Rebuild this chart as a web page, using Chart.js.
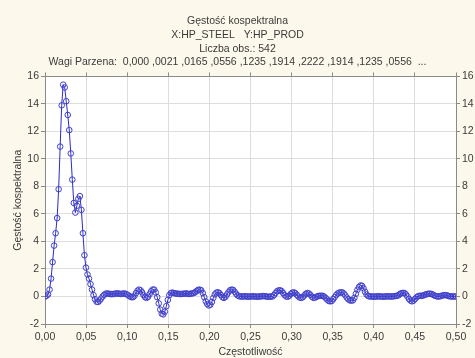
<!DOCTYPE html>
<html>
<head>
<meta charset="utf-8">
<script src="https://cdn.jsdelivr.net/npm/chart.js@4.4.0/dist/chart.umd.min.js"></script>
<style>
  html, body { margin: 0; padding: 0; background: #fcf9ec; }
  canvas { display: block; }
</style>
</head>
<body>
<canvas id="chart" width="475" height="358"></canvas>
<script>
// Cospectral density, one value per Fourier frequency k / nObs
const nObs = 542;
const cospectrum = [
  0.0, 0.05, 0.15, 0.5, 1.3, 2.5, 3.7, 4.6, 5.7, 7.8,
  10.9, 13.9, 15.4, 15.2, 14.2, 13.2, 12.1, 10.4, 8.5, 6.8,
  6.1, 6.6, 7.1, 7.3, 6.3, 4.6, 3.0, 2.1, 1.6, 1.3,
  0.9, 0.5, 0.1, -0.2, -0.38, -0.4, -0.3, -0.15, 0.0, 0.12,
  0.2, 0.22, 0.2, 0.18, 0.17, 0.18, 0.2, 0.22, 0.22, 0.2,
  0.18, 0.2, 0.22, 0.2, 0.15, 0.08, 0.0, -0.05, -0.05, 0.05,
  0.25, 0.42, 0.5, 0.45, 0.3, 0.1, -0.05, -0.1, -0.02, 0.18,
  0.38, 0.5, 0.5, 0.3, -0.05, -0.5, -0.95, -1.25, -1.3, -1.1,
  -0.7, -0.25, 0.1, 0.25, 0.28, 0.25, 0.22, 0.2, 0.2, 0.18,
  0.18, 0.2, 0.2, 0.22, 0.2, 0.18, 0.2, 0.22, 0.25, 0.3,
  0.4, 0.48, 0.5, 0.45, 0.25, -0.05, -0.35, -0.55, -0.65, -0.6,
  -0.4, -0.1, 0.15, 0.28, 0.3, 0.25, 0.1, -0.05, -0.1, -0.02,
  0.15, 0.32, 0.45, 0.5, 0.48, 0.35, 0.2, 0.08, 0.02, 0.0,
  0.0, 0.0, 0.02, 0.0, -0.02, 0.0, 0.0, 0.02, 0.0, 0.0,
  -0.02, 0.0, 0.0, 0.02, 0.03, 0.02, 0.0, -0.02, -0.02, 0.0,
  0.0, 0.1, 0.25, 0.38, 0.44, 0.45, 0.4, 0.25, 0.1, 0.0,
  -0.02, 0.05, 0.18, 0.27, 0.3, 0.25, 0.12, 0.0, -0.08, -0.1,
  -0.05, 0.08, 0.2, 0.25, 0.22, 0.12, -0.02, -0.1, -0.08, -0.02,
  0.03, 0.05, 0.05, 0.05, 0.0, -0.1, -0.22, -0.32, -0.35, -0.33,
  -0.2, -0.05, 0.1, 0.22, 0.28, 0.3, 0.3, 0.22, 0.08, -0.08,
  -0.2, -0.28, -0.3, -0.28, -0.1, 0.2, 0.48, 0.68, 0.8, 0.78,
  0.6, 0.35, 0.15, 0.04, 0.0, 0.0, 0.0, -0.02, 0.0, 0.0,
  0.02, 0.0, 0.0, -0.02, 0.0, 0.0, 0.02, 0.0, 0.0, 0.0,
  0.02, 0.03, 0.05, 0.08, 0.18, 0.24, 0.26, 0.25, 0.15, 0.0,
  -0.18, -0.3, -0.35, -0.3, -0.18, -0.05, 0.02, 0.05, 0.05, 0.06,
  0.1, 0.15, 0.18, 0.2, 0.2, 0.18, 0.12, 0.06, 0.02, 0.0,
  0.0, 0.03, 0.07, 0.1, 0.1, 0.08, 0.04, 0.01, 0.0, 0.0,
  0.0, 0.0
];
const frequencies = cospectrum.map((_, k) => k / nObs);

const titleLines = [
  'Gęstość kospektralna',
  'X:HP_STEEL   Y:HP_PROD',
  'Liczba obs.: 542',
  'Wagi Parzena:  0,000 ,0021 ,0165 ,0556 ,1235 ,1914 ,2222 ,1914 ,1235 ,0556  ...'
];
const xRange = [0, 0.5, 0.05];
const yRange = [-2, 16, 2];

const textColor = '#3a3a3a';
const gridColor = '#dedede';
const frameColor = '#8a8a8a';

Chart.defaults.font.family = "'Liberation Sans', Arial, sans-serif";
Chart.defaults.font.size = 10.5;
Chart.defaults.color = textColor;

// beige page, white plotting area
const backdrop = {
  id: 'backdrop',
  beforeDraw(chart) {
    const { ctx, chartArea: a } = chart;
    ctx.save();
    ctx.fillStyle = '#fcf9ec';
    ctx.fillRect(0, 0, chart.width, chart.height);
    ctx.fillStyle = '#ffffff';
    ctx.fillRect(a.left, a.top, a.right - a.left, a.bottom - a.top);
    ctx.restore();
  }
};

const commaFmt = v => v.toFixed(2).replace('.', ',');

new Chart(document.getElementById('chart').getContext('2d'), {
  type: 'line',
  data: {
    datasets: [{
      data: cospectrum.map((v, i) => ({ x: frequencies[i], y: v })),
      borderColor: '#2c2cc4',
      borderWidth: 1,
      pointRadius: 2.8,
      pointBorderWidth: 1,
      pointBorderColor: '#4040cc',
      pointBackgroundColor: 'rgba(0,0,0,0)',
      tension: 0
    }]
  },
  options: {
    responsive: false,
    animation: false,
    layout: { padding: 0 },
    plugins: {
      legend: { display: false },
      tooltip: { enabled: false },
      title: {
        display: true,
        text: titleLines,
        color: textColor,
        font: { size: 10.5, weight: 'normal', lineHeight: 1.32 },
        padding: { top: 14, bottom: 3 }
      }
    },
    scales: {
      x: {
        type: 'linear',
        position: 'bottom',
        min: xRange[0], max: xRange[1],
        ticks: { stepSize: xRange[2], callback: commaFmt, padding: 3, maxRotation: 0 },
        grid: { color: gridColor, tickColor: frameColor, tickLength: 4 },
        border: { color: frameColor },
        title: { display: true, text: 'Częstotliwość', padding: { top: 0, bottom: 0 } },
        afterFit: s => { s.height = 34; }
      },
      xTop: {
        type: 'linear',
        position: 'top',
        min: xRange[0], max: xRange[1],
        ticks: { stepSize: xRange[2], display: false },
        grid: { drawOnChartArea: false, tickColor: frameColor, tickLength: 4 },
        border: { color: frameColor },
        afterFit: s => { s.height = 4; }
      },
      y: {
        position: 'left',
        min: yRange[0], max: yRange[1],
        ticks: { stepSize: yRange[2], padding: 2 },
        grid: { color: gridColor, tickColor: frameColor, tickLength: 4 },
        border: { color: frameColor },
        title: { display: true, text: 'Gęstość kospektralna', padding: { top: 12, bottom: 0 } },
        afterFit: s => { s.width = 45; }
      },
      y2: {
        position: 'right',
        min: yRange[0], max: yRange[1],
        ticks: { stepSize: yRange[2], padding: 2 },
        grid: { drawOnChartArea: false, tickColor: frameColor, tickLength: 4 },
        border: { color: frameColor },
        afterFit: s => { s.width = 19; }
      }
    }
  },
  plugins: [backdrop]
});
</script>
</body>
</html>
